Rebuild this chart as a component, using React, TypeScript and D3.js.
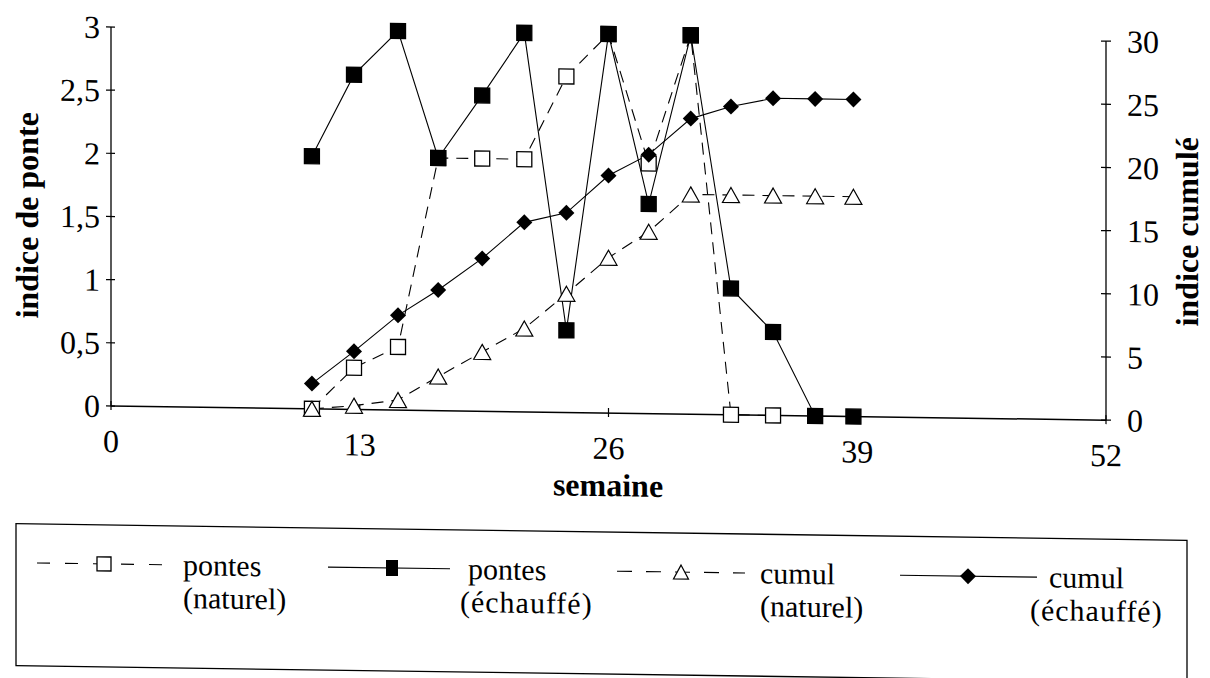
import React from 'react';
import * as d3 from 'd3';

// ---- data ----
const weeks = [10.5, 12.7, 15.0, 17.1, 19.4, 21.6, 23.8, 26.0, 28.1, 30.3, 32.4, 34.6, 36.8, 38.8];
const pontesNaturel = [0, 0.33, 0.5, 2.0, 2.0, 2.0, 2.66, 3.0, 1.98, 3.0, 0, 0];
const pontesEchauffe = [2.0, 2.65, 3.0, 2.0, 2.5, 3.0, 0.65, 3.0, 1.66, 3.0, 1.0, 0.66, 0, 0];
const cumulNaturel = [0, 0.3, 0.8, 2.7, 4.7, 6.6, 9.4, 12.3, 14.4, 17.4, 17.4, 17.4, 17.4, 17.4];
const cumulEchauffe = [2.0, 4.6, 7.5, 9.55, 12.1, 15.0, 15.8, 18.8, 20.5, 23.4, 24.4, 25.1, 25.1, 25.1];
const xTicks = [0, 13, 26, 39, 52];
const leftTicks = [0, 0.5, 1, 1.5, 2, 2.5, 3];
const rightTicks = [0, 5, 10, 15, 20, 25, 30];
const xTitle = 'semaine';
const leftTitle = 'indice de ponte';
const rightTitle = 'indice cumulé';

const FONT = 'Liberation Serif';
const W = 1210;
const H = 678;
const SHEAR = 0.0142;
const X0 = 111;
const X1 = 1106;
const Y0 = 406;
const Y1 = 27;

const x = d3.scaleLinear().domain([0, 52]).range([X0, X1]);
const yL = d3.scaleLinear().domain([0, 3]).range([Y0, Y1]);
const yR = d3.scaleLinear().domain([0, 30]).range([Y0, Y1]);
const commaFmt = (v: number) => d3.format('~g')(v).replace('.', ',');

type Pt = { w: number; v: number };
const toPts = (vals: number[]): Pt[] => vals.map((v, i) => ({ w: weeks[i], v }));

const sq = (cx: number, cy: number, s: number, fill: string, key: string) => (
  <rect key={key} x={cx - s / 2} y={cy - s / 2} width={s} height={s} fill={fill} stroke="#000" strokeWidth={1.3} />
);
const tri = (cx: number, cy: number, w: number, h: number, key: string) => (
  <path key={key} d={`M${cx},${cy - h / 2}L${cx + w / 2},${cy + h / 2}L${cx - w / 2},${cy + h / 2}Z`} fill="#fff" stroke="#000" strokeWidth={1.2} />
);
const dia = (cx: number, cy: number, r: number, key: string) => (
  <path key={key} d={`M${cx},${cy - r}L${cx + r},${cy}L${cx},${cy + r}L${cx - r},${cy}Z`} fill="#000" />
);

export default function App() {
  const pn = toPts(pontesNaturel);
  const pe = toPts(pontesEchauffe);
  const cn = toPts(cumulNaturel);
  const ce = toPts(cumulEchauffe);
  const lineL = d3.line<Pt>().x((d) => x(d.w)).y((d) => yL(d.v));
  const lineR = d3.line<Pt>().x((d) => x(d.w)).y((d) => yR(d.v));

  const legY = 564;
  const tb1 = 574;
  const tb2 = 607;
  const legStyle = { fontFamily: FONT, fontSize: 30 } as const;
  const txt = { fontFamily: FONT, fontSize: 32 } as const;
  const bold = { fontFamily: FONT, fontSize: 32, fontWeight: 'bold' } as const;

  return (
    <svg width={W} height={H} style={{ position: 'absolute', left: 0, top: 0, background: '#fff' }}>
      <rect x={0} y={0} width={W} height={H} fill="#fff" />
      <g transform={`matrix(1, ${SHEAR}, 0, 1, 0, ${-SHEAR * X0})`}>
        {/* axes */}
        <line x1={X0} y1={Y1} x2={X0} y2={Y0} stroke="#000" strokeWidth={1.3} />
        <line x1={X1} y1={Y1} x2={X1} y2={Y0} stroke="#000" strokeWidth={1.3} />
        <line x1={X0} y1={Y0} x2={X1} y2={Y0} stroke="#000" strokeWidth={1.5} />
        {leftTicks.map((t) => (
          <g key={'lt' + t}>
            <line x1={X0 - 5} x2={X0 + 4} y1={yL(t)} y2={yL(t)} stroke="#000" strokeWidth={1.2} />
            <text x={100} y={yL(t)} dy="0.35em" textAnchor="end" style={txt}>
              {commaFmt(t)}
            </text>
          </g>
        ))}
        {rightTicks.map((t) => (
          <g key={'rt' + t}>
            <line x1={X1 - 5} x2={X1 + 5} y1={yR(t)} y2={yR(t)} stroke="#000" strokeWidth={1.2} />
            <text x={1127} y={yR(t)} dy="0.35em" textAnchor="start" style={txt}>
              {t}
            </text>
          </g>
        ))}
        {xTicks.map((t) => (
          <g key={'xt' + t}>
            <line x1={x(t)} x2={x(t)} y1={Y0 - 5} y2={Y0 + 4} stroke="#000" strokeWidth={1.2} />
            <text x={x(t)} y={452} textAnchor="middle" style={txt}>
              {t}
            </text>
          </g>
        ))}
        <text x={608} y={489} textAnchor="middle" style={bold}>
          {xTitle}
        </text>
        <text transform={`translate(38,${(Y0 + Y1) / 2}) rotate(-90)`} textAnchor="middle" style={bold}>
          {leftTitle}
        </text>
        <text transform={`translate(1198,${(Y0 + Y1) / 2}) rotate(-90)`} textAnchor="middle" style={bold}>
          {rightTitle}
        </text>

        {/* series lines */}
        <path d={lineL(pn) || ''} fill="none" stroke="#000" strokeWidth={1.1} strokeDasharray="12,8" />
        <path d={lineL(pe) || ''} fill="none" stroke="#000" strokeWidth={1.1} />
        <path d={lineR(cn) || ''} fill="none" stroke="#000" strokeWidth={1.1} strokeDasharray="12,8" />
        <path d={lineR(ce) || ''} fill="none" stroke="#000" strokeWidth={1.1} />

        {/* markers */}
        {pn.map((d, i) => sq(x(d.w), yL(d.v), 15, '#fff', 'pn' + i))}
        {pe.map((d, i) => sq(x(d.w), yL(d.v), 15, '#000', 'pe' + i))}
        {cn.map((d, i) => tri(x(d.w), yR(d.v), 17, 15, 'cn' + i))}
        {ce.map((d, i) => dia(x(d.w), yR(d.v), 8, 'ce' + i))}

        {/* legend */}
        <rect x={16} y={525} width={1171} height={142} fill="none" stroke="#000" strokeWidth={1.3} />
        <line x1={37} x2={163} y1={legY} y2={legY} stroke="#000" strokeWidth={1.1} strokeDasharray="13,15" />
        {sq(104, legY, 14, '#fff', 'l1')}
        <text x={183} y={tb1} style={legStyle}>pontes</text>
        <text x={183} y={tb2} style={legStyle}>(naturel)</text>

        <line x1={328} x2={450} y1={legY} y2={legY} stroke="#000" strokeWidth={1.1} />
        <rect x={392 - 6} y={legY - 8} width={12} height={16} fill="#000" />
        <text x={468} y={tb1} style={legStyle}>pontes</text>
        <text x={460} y={tb2} style={legStyle} letterSpacing={1}>(échauffé)</text>

        <line x1={617} x2={745} y1={legY} y2={legY} stroke="#000" strokeWidth={1.1} strokeDasharray="15,14" />
        {tri(681, legY, 15, 14, 'l3')}
        <text x={760} y={tb1} style={legStyle}>cumul</text>
        <text x={760} y={tb2} style={legStyle}>(naturel)</text>

        <line x1={900} x2={1037} y1={legY} y2={legY} stroke="#000" strokeWidth={1.1} />
        {dia(968, legY, 8, 'l4')}
        <text x={1049} y={tb1} style={legStyle}>cumul</text>
        <text x={1030} y={tb2} style={legStyle} letterSpacing={1}>(échauffé)</text>
      </g>
    </svg>
  );
}
